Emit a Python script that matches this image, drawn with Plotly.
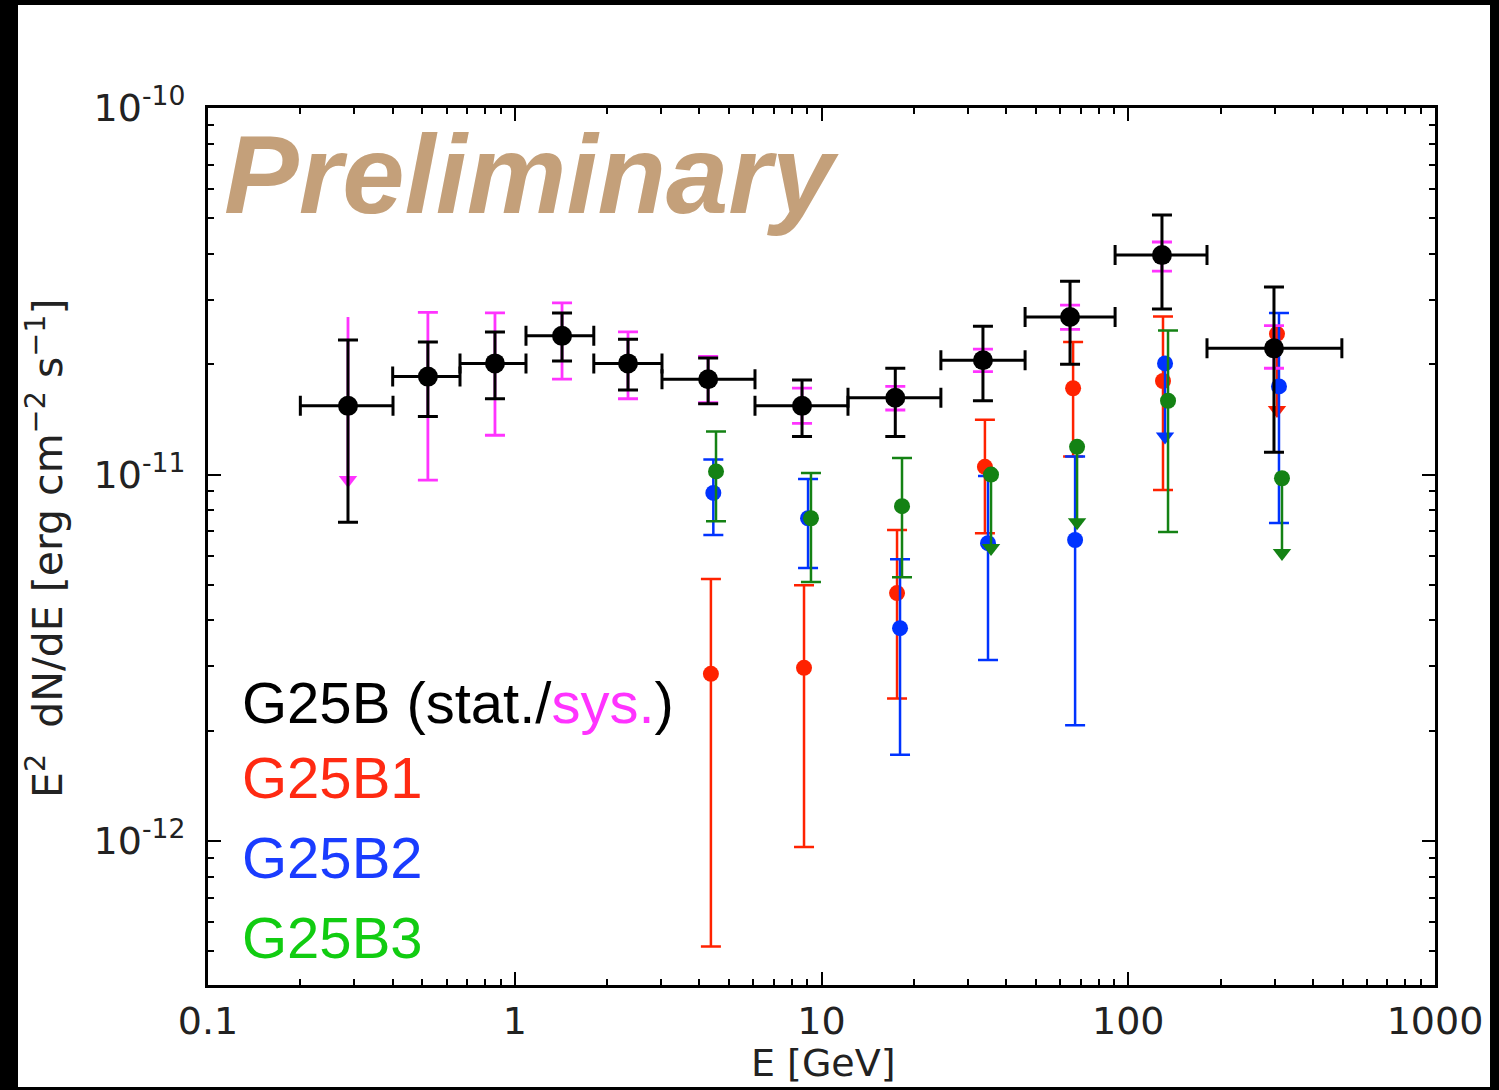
import plotly.graph_objects as go
import math

# ---------------- data ----------------
# G25B (total) : energies, bin edges, flux, stat and sys bounds
e_tot = [0.286, 0.521, 0.862, 1.426, 2.34, 4.27, 8.64, 17.4, 33.6, 64.6, 128.8, 298.6]
e_lo = [0.200, 0.400, 0.663, 1.088, 1.81, 3.02, 6.07, 12.2, 24.5, 46.1, 90.6, 180.6]
e_hi = [0.401, 0.663, 1.088, 1.81, 3.02, 6.07, 12.2, 24.5, 46.1, 90.6, 180.6, 497.0]
f_tot = [1.54e-11, 1.85e-11, 2.01e-11, 2.39e-11, 2.01e-11, 1.82e-11, 1.54e-11, 1.62e-11, 2.05e-11, 2.69e-11, 3.97e-11, 2.21e-11]
stat_hi = [2.33e-11, 2.30e-11, 2.45e-11, 2.76e-11, 2.34e-11, 2.08e-11, 1.81e-11, 1.95e-11, 2.54e-11, 3.37e-11, 5.11e-11, 3.25e-11]
stat_lo = [7.41e-12, 1.44e-11, 1.61e-11, 2.04e-11, 1.70e-11, 1.56e-11, 1.27e-11, 1.27e-11, 1.59e-11, 2.00e-11, 2.83e-11, 1.15e-11]
sys_hi = [2.69e-11, 2.77e-11, 2.76e-11, 2.94e-11, 2.45e-11, 2.10e-11, 1.72e-11, 1.74e-11, 2.20e-11, 2.90e-11, 4.31e-11, 2.55e-11]
sys_lo = [9.66e-12, 9.66e-12, 1.28e-11, 1.82e-11, 1.61e-11, 1.57e-11, 1.38e-11, 1.50e-11, 1.91e-11, 2.49e-11, 3.59e-11, 1.95e-11]
sys_lim = [1, 0, 0, 0, 0, 0, 0, 0, 0, 0, 0, 0]

# G25B1
e_b1 = [4.36, 8.77, 17.63, 34.1, 66.1, 129.8, 305.4]
f_b1 = [2.86e-12, 2.97e-12, 4.75e-12, 1.05e-11, 1.72e-11, 1.80e-11, 2.42e-11]
hi_b1 = [5.19e-12, 4.99e-12, 7.06e-12, 1.41e-11, 2.30e-11, 2.70e-11, 2.42e-11]
lo_b1 = [5.16e-13, 9.63e-13, 2.45e-12, 6.92e-12, 1.12e-11, 9.08e-12, 1.50e-11]
lim_b1 = [0, 0, 0, 0, 0, 0, 1]

# G25B2
e_b2 = [4.44, 9.04, 18.03, 34.9, 67.1, 131.8, 310.0]
f_b2 = [8.91e-12, 7.60e-12, 3.81e-12, 6.50e-12, 6.63e-12, 2.01e-11, 1.74e-11]
hi_b2 = [1.10e-11, 9.73e-12, 5.87e-12, 9.91e-12, 1.12e-11, 2.01e-11, 2.76e-11]
lo_b2 = [6.84e-12, 5.56e-12, 1.72e-12, 3.12e-12, 2.07e-12, 1.27e-11, 7.38e-12]
lim_b2 = [0, 0, 0, 0, 0, 1, 0]

# G25B3
e_b3 = [4.53, 9.24, 18.30, 35.7, 68.1, 134.8, 317.1]
f_b3 = [1.02e-11, 7.60e-12, 8.20e-12, 1.00e-11, 1.19e-11, 1.59e-11, 9.77e-12]
hi_b3 = [1.31e-11, 1.01e-11, 1.11e-11, 1.00e-11, 1.19e-11, 2.47e-11, 9.77e-12]
lo_b3 = [7.46e-12, 5.09e-12, 5.25e-12, 6.30e-12, 7.41e-12, 6.97e-12, 6.11e-12]
lim_b3 = [0, 0, 0, 1, 1, 0, 1]

x_tickvals = [0.1, 1, 10, 100, 1000]
x_ticktext = ["0.1", "1", "10", "100", "1000"]
y_tickvals = [1e-12, 1e-11, 1e-10]
y_ticktext = ["10<sup>-12</sup>", "10<sup>-11</sup>", "10<sup>-10</sup>"]
minor_digits = [2, 3, 4, 5, 6, 7, 8, 9]
x_decades = [0.1, 1, 10, 100]
y_decades = [1e-13, 1e-12, 1e-11]

RED = "#ff2200"
BLUE = "#0033ff"
GREEN = "#148214"
MAG = "#ff33ff"

fig = go.Figure()


def add_series(e, f, hi, lo, lim, color, lw, cap, msize, tri_size, show_dots=True):
    idx_c = [i for i in range(len(e)) if not lim[i]]
    idx_l = [i for i in range(len(e)) if lim[i]]
    if idx_c:
        fig.add_trace(go.Scatter(
            x=[e[i] for i in idx_c], y=[f[i] for i in idx_c], mode="markers",
            marker=dict(size=msize, color=color, opacity=1 if show_dots else 0),
            error_y=dict(type="data", symmetric=False,
                         array=[hi[i] - f[i] for i in idx_c],
                         arrayminus=[f[i] - lo[i] for i in idx_c],
                         color=color, thickness=lw, width=cap),
            showlegend=False, hoverinfo="skip"))
    if idx_l:
        fig.add_trace(go.Scatter(
            x=[e[i] for i in idx_l], y=[f[i] for i in idx_l], mode="markers",
            marker=dict(size=msize, color=color, opacity=1 if show_dots else 0),
            error_y=dict(type="data", symmetric=False,
                         array=[hi[i] - f[i] for i in idx_l],
                         arrayminus=[f[i] - lo[i] for i in idx_l],
                         color=color, thickness=lw, width=0),
            showlegend=False, hoverinfo="skip"))
        fig.add_trace(go.Scatter(
            x=[e[i] for i in idx_l], y=[lo[i] for i in idx_l], mode="markers",
            marker=dict(size=tri_size, color=color, symbol="triangle-down"),
            showlegend=False, hoverinfo="skip"))


add_series(e_b1, f_b1, hi_b1, lo_b1, lim_b1, RED, 2.5, 10, 16, 16)
add_series(e_b2, f_b2, hi_b2, lo_b2, lim_b2, BLUE, 2.5, 10, 16, 16)
add_series(e_b3, f_b3, hi_b3, lo_b3, lim_b3, GREEN, 2.5, 10, 16, 16)

# systematic (magenta)
add_series(e_tot, f_tot, sys_hi, sys_lo, sys_lim, MAG, 2.8, 10, 1, 16, show_dots=False)

# statistical (black) with energy bins
fig.add_trace(go.Scatter(
    x=e_tot, y=f_tot, mode="markers",
    marker=dict(size=20, color="black"),
    error_y=dict(type="data", symmetric=False,
                 array=[h - f for h, f in zip(stat_hi, f_tot)],
                 arrayminus=[f - l for l, f in zip(stat_lo, f_tot)],
                 color="black", thickness=3, width=10),
    error_x=dict(type="data", symmetric=False,
                 array=[h - e for h, e in zip(e_hi, e_tot)],
                 arrayminus=[e - l for l, e in zip(e_lo, e_tot)],
                 color="black", thickness=3, width=10),
    showlegend=False, hoverinfo="skip"))

# invisible trace to carry the mirrored (top/right) tick axes
fig.add_trace(go.Scatter(x=[e_tot[0]], y=[f_tot[0]], xaxis="x2", yaxis="y2",
                         mode="markers", marker=dict(opacity=0), showlegend=False,
                         hoverinfo="skip"))

# ---------------- layout ----------------
L, R, T, B = 208, 64, 108, 105
W, H = 1499, 1090
pw, ph = W - L - R, H - T - B


def px(xp):
    return (xp - L) / pw


def py(yp):
    return (H - B - yp) / ph


axis_font = dict(family="DejaVu Sans", size=38, color="#222222")
x_minor = [d * m for d in x_decades for m in minor_digits]
y_minor = [d * m for d in y_decades for m in minor_digits]
xrange_ = [-1, 3]
yrange_ = [math.log10(4.05e-13), -10]

common = dict(ticks="inside", ticklen=13, tickwidth=2, tickcolor="black",
              showgrid=False, zeroline=False)

xaxis = dict(type="log", range=xrange_, tickmode="array", tickvals=x_tickvals,
             ticktext=x_ticktext, tickfont=axis_font,
             showline=True, linewidth=3, linecolor="black", mirror=True,
             minor=dict(ticks="inside", ticklen=6, tickwidth=1.5, tickcolor="black",
                        tickmode="array", tickvals=x_minor, showgrid=False),
             **common)
xaxis2 = dict(type="log", range=xrange_, overlaying="x", side="top", anchor="y2",
              tickmode="array", tickvals=x_tickvals, showticklabels=False, showline=False,
              minor=dict(ticks="inside", ticklen=6, tickwidth=1.5, tickcolor="black",
                         tickmode="array", tickvals=x_minor, showgrid=False),
              **common)
yaxis = dict(type="log", range=yrange_, tickmode="array", tickvals=y_tickvals,
             ticktext=y_ticktext, tickfont=axis_font, ticklabelstandoff=12,
             showline=True, linewidth=3, linecolor="black", mirror=True,
             minor=dict(ticks="inside", ticklen=6, tickwidth=1.5, tickcolor="black",
                        tickmode="array", tickvals=y_minor, showgrid=False),
             **common)
yaxis2 = dict(type="log", range=yrange_, overlaying="y", side="right", anchor="x2",
              tickmode="array", tickvals=y_tickvals, showticklabels=False, showline=False,
              minor=dict(ticks="inside", ticklen=6, tickwidth=1.5, tickcolor="black",
                         tickmode="array", tickvals=y_minor, showgrid=False),
              **common)

annotations = [
    dict(text="<b><i>Preliminary</i></b>", x=px(222), y=py(174), xanchor="left", yanchor="middle",
         font=dict(family="Liberation Sans", size=112, color="#c4a07a")),
    dict(text="G25B (stat./<span style='color:#ff33ff'>sys.</span>)", x=px(240), y=py(702),
         xanchor="left", yanchor="middle", font=dict(family="Liberation Sans", size=58, color="black")),
    dict(text="G25B1", x=px(240), y=py(777), xanchor="left", yanchor="middle",
         font=dict(family="Liberation Sans", size=58, color="#ff2a12")),
    dict(text="G25B2", x=px(240), y=py(857), xanchor="left", yanchor="middle",
         font=dict(family="Liberation Sans", size=58, color="#1a3cff")),
    dict(text="G25B3", x=px(240), y=py(937), xanchor="left", yanchor="middle",
         font=dict(family="Liberation Sans", size=58, color="#11cc11")),
    dict(text="E [GeV]", x=px(823), y=py(1063), xanchor="center", yanchor="middle",
         font=axis_font),
    dict(text="E<sup>2</sup>  dN/dE [erg cm<sup>\u22122</sup> s<sup>\u22121</sup>]", x=px(45), y=py(548),
         xanchor="center", yanchor="middle", textangle=-90,
         font=dict(family="DejaVu Sans", size=41, color="#222222")),
]
for a in annotations:
    a.update(xref="paper", yref="paper", showarrow=False)

fig.update_layout(
    width=W, height=H,
    margin=dict(l=L, r=R, t=T, b=B),
    paper_bgcolor="black", plot_bgcolor="white",
    xaxis=xaxis, xaxis2=xaxis2, yaxis=yaxis, yaxis2=yaxis2,
    annotations=annotations,
    shapes=[dict(type="rect", xref="paper", yref="paper", layer="below",
                 x0=px(18), x1=px(1490), y0=py(1087), y1=py(5),
                 fillcolor="white", line=dict(width=0))],
    showlegend=False,
)

fig.write_html("out.html", config={"displayModeBar": False},
               post_script="document.body.style.margin='0';document.body.style.overflow='hidden';")
